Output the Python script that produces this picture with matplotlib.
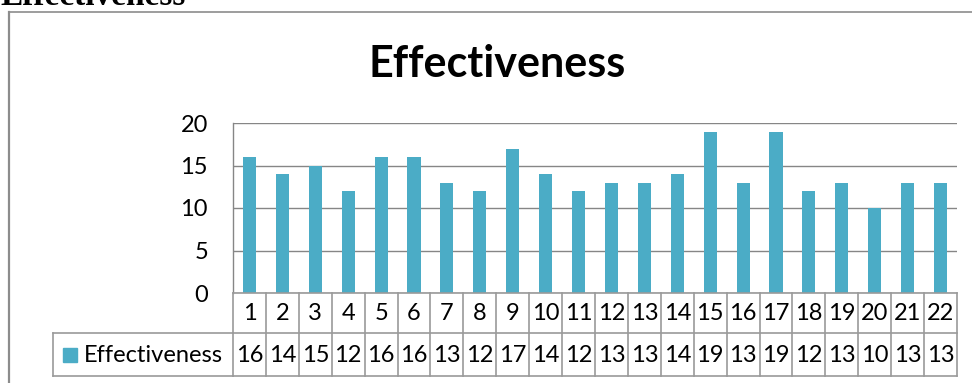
import matplotlib
matplotlib.use("Agg")
import matplotlib.pyplot as plt
from matplotlib.transforms import blended_transform_factory
from matplotlib.patches import Rectangle
from matplotlib.lines import Line2D

categories = [str(i) for i in range(1, 23)]
effectiveness = [16, 14, 15, 12, 16, 16, 13, 12, 17, 14, 12, 13, 13, 14, 19, 13, 19, 12, 13, 10, 13, 13]
series_name = "Effectiveness"
y_ticks = [0, 5, 10, 15, 20]

W, H = 972, 383
BAR = "#4BACC6"
GRID = "#868686"
FONT = "Lato"
FS = 17

fig = plt.figure(figsize=(W / 100, H / 100), dpi=100)

def fx(px):
    return px / W

def fy(py):
    return 1 - py / H

# page heading, partly cut off above the chart frame
fig.text(fx(0), fy(5), "Effectiveness", family="Liberation Serif", weight="bold",
         fontsize=24, va="baseline", ha="left")

# chart frame
fig.add_artist(Line2D([fx(8.5), fx(8.5)], [fy(11.5), fy(H + 5)], color="#8c8c8c", lw=1.6,
                      transform=fig.transFigure))
fig.add_artist(Line2D([fx(8.5), fx(W + 5)], [fy(11.5), fy(11.5)], color="#8c8c8c", lw=1.2,
                      transform=fig.transFigure))

fig.text(fx(497), fy(64), "Effectiveness", family=FONT, weight="bold", fontsize=31,
         ha="center", va="center")

left, right, top, zero = 233, 957, 123, 293
ax = fig.add_axes([fx(left), fy(zero), fx(right - left), (zero - top) / H])
x = list(range(len(categories)))
ax.bar(x, effectiveness, width=0.4, color=BAR, zorder=3)
ax.set_xlim(-0.5, len(categories) - 0.5)
ax.set_ylim(0, 20)
ax.set_yticks(y_ticks)
ax.set_yticklabels([str(t) for t in y_ticks], family=FONT, fontsize=FS)
ax.tick_params(axis="y", length=0, pad=18)
ax.set_xticks([])
ax.grid(axis="y", color=GRID, lw=1, zorder=0)
for s in ["top", "right", "bottom"]:
    ax.spines[s].set_visible(False)
ax.spines["left"].set_color(GRID)
ax.spines["left"].set_linewidth(1)

# data table under the plot
tr = blended_transform_factory(ax.transData, fig.transFigure)
row1_top, row1_bot, row2_bot = 293, 333, 376
legend_left = 53
lc = "#9a9a9a"
n = len(categories)
for yy in (row1_top, row1_bot, row2_bot):
    fig.add_artist(Line2D([-0.5, n - 0.5], [fy(yy)] * 2, color=lc, lw=1.2, transform=tr,
                          clip_on=False))
for yy in (row1_bot, row2_bot):
    fig.add_artist(Line2D([fx(legend_left), fx(left)], [fy(yy)] * 2, color=lc, lw=1.2,
                          transform=fig.transFigure))
fig.add_artist(Line2D([fx(legend_left)] * 2, [fy(row1_bot), fy(row2_bot)], color=lc, lw=1.2,
                      transform=fig.transFigure))
for i in range(n + 1):
    fig.add_artist(Line2D([i - 0.5] * 2, [fy(row1_top), fy(row2_bot)], color=lc, lw=1.2,
                          transform=tr, clip_on=False))
for i, (c, v) in enumerate(zip(categories, effectiveness)):
    fig.text(i, fy((row1_top + row1_bot) / 2 + 1), c, transform=tr, ha="center", va="center",
             family=FONT, fontsize=FS)
    fig.text(i, fy((row1_bot + row2_bot) / 2 + 1), str(v), transform=tr, ha="center", va="center",
             family=FONT, fontsize=FS)

fig.add_artist(Rectangle((fx(63), fy(362)), fx(14), 14 / H, color=BAR, transform=fig.transFigure))
fig.text(fx(84), fy((row1_bot + row2_bot) / 2 + 1), series_name, ha="left", va="center",
         family=FONT, fontsize=FS)

fig.savefig("out.png", dpi=100)
